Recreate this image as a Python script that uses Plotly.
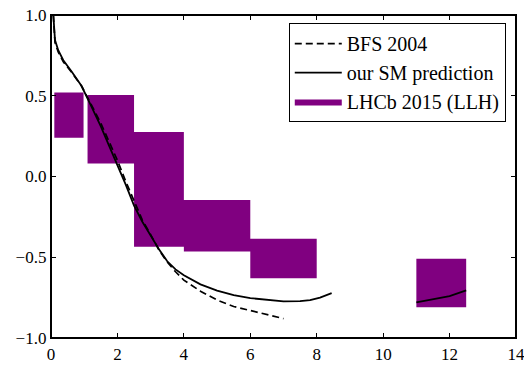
import plotly.graph_objs as go

# BFS 2004 prediction (dashed)
bfs_q2 = [0.07, 0.12, 0.22, 0.37, 0.62, 0.92, 1.2, 1.5, 1.75, 2.0, 2.25, 2.5, 2.75,
          3.0, 3.25, 3.5, 3.75, 4.0, 4.5, 5.0, 5.5, 6.0, 6.5, 7.0]
bfs_val = [1.0, 0.83, 0.77, 0.71, 0.645, 0.56, 0.45, 0.33, 0.215, 0.1, -0.03, -0.155, -0.27,
           -0.36, -0.455, -0.53, -0.59, -0.642, -0.71, -0.765, -0.805, -0.83, -0.855, -0.88]

# our SM prediction, low q2 region
sm_q2 = [0.07, 0.12, 0.22, 0.37, 0.62, 0.92, 1.2, 1.5, 1.75, 2.0, 2.25, 2.5, 2.75, 3.0,
         3.25, 3.5, 3.75, 4.0, 4.5, 5.0, 5.5, 6.0, 6.5, 7.0, 7.5, 7.8, 8.1, 8.3, 8.45]
sm_val = [1.0, 0.845, 0.78, 0.72, 0.65, 0.56, 0.44, 0.31, 0.19, 0.075, -0.05, -0.18, -0.28, -0.365,
          -0.45, -0.525, -0.575, -0.612, -0.668, -0.706, -0.735, -0.753, -0.765, -0.773, -0.772,
          -0.765, -0.75, -0.735, -0.722]

# our SM prediction, high q2 region
sm_hi_q2 = [11.0, 11.5, 12.0, 12.5]
sm_hi_val = [-0.78, -0.762, -0.74, -0.705]

# LHCb 2015 (LLH) bins
bin_lo = [0.1, 1.1, 2.5, 4.0, 6.0, 11.0]
bin_hi = [0.98, 2.5, 4.0, 6.0, 8.0, 12.5]
val_lo = [0.24, 0.08, -0.435, -0.465, -0.63, -0.81]
val_hi = [0.52, 0.505, 0.275, -0.145, -0.385, -0.51]

x_ticks = [0, 2, 4, 6, 8, 10, 12, 14]
y_ticks = [-1, -0.5, 0, 0.5, 1]

FONT = 'Liberation Serif'

fig = go.Figure()

# boxes as closed polygons separated by None
bx, by = [], []
for x0, x1, y0, y1 in zip(bin_lo, bin_hi, val_lo, val_hi):
    bx += [x0, x1, x1, x0, x0, None]
    by += [y0, y0, y1, y1, y0, None]
fig.add_trace(go.Scatter(
    x=bx, y=by,
    mode='lines',
    fill='toself',
    fillcolor='#800080',
    line=dict(color='#800080', width=0),
    name='LHCb 2015 (LLH)',
    legendrank=3
))

fig.add_trace(go.Scatter(
    x=bfs_q2, y=bfs_val,
    mode='lines',
    name='BFS 2004',
    line=dict(color='black', width=1.7, dash='7px,4px'),
    legendrank=1
))

fig.add_trace(go.Scatter(
    x=sm_q2 + [None] + sm_hi_q2,
    y=sm_val + [None] + sm_hi_val,
    mode='lines',
    name='our SM prediction',
    line=dict(color='black', width=1.8),
    legendrank=2
))

axis_style = dict(
    showline=True, linecolor='black', linewidth=1.3, mirror='ticks',
    ticks='inside', ticklen=5, tickwidth=1, tickcolor='black',
    showgrid=False, zeroline=False, automargin=False, ticklabeloverflow='allow',
    tickfont=dict(family=FONT, size=17, color='black')
)

fig.update_layout(
    width=524, height=371,
    template='none',
    paper_bgcolor='white', plot_bgcolor='white',
    margin=dict(l=51, r=8, t=15, b=33),
    showlegend=True,
    legend=dict(
        x=0.978, y=0.975, xanchor='right', yanchor='top',
        bgcolor='white', bordercolor='black', borderwidth=1,
        font=dict(family=FONT, size=20, color='black'),
        itemwidth=47, traceorder='normal'
    ),
    xaxis=dict(range=[0, 14], tickvals=x_ticks, **axis_style),
    yaxis=dict(range=[-1, 1], tickvals=y_ticks, tickformat='.1f', **axis_style),
)

# frame round the plot area
fig.add_shape(type='rect', xref='paper', yref='paper', x0=0, y0=0, x1=1, y1=1,
              line=dict(color='black', width=2), fillcolor='rgba(0,0,0,0)', layer='above')

# x axis title sits mostly below the bottom edge, as in the original
fig.add_annotation(text='q<sup>2</sup>', xref='paper', yref='paper', x=0.5, y=-0.108,
                   xanchor='center', yanchor='top', showarrow=False,
                   font=dict(family=FONT, size=20, color='black'))

fig.write_html("out.html", config={'displayModeBar': False},
               post_script="document.body.style.margin='0';document.body.style.overflow='hidden';")
